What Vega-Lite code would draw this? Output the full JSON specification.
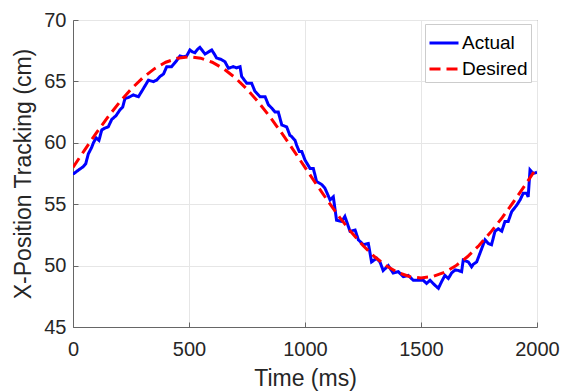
{
  "$schema": "https://vega.github.io/schema/vega-lite/v6.json",
  "width": 464,
  "height": 307,
  "autosize": {"type": "none"},
  "padding": {"left": 73, "top": 20, "right": 34, "bottom": 65},
  "background": "white",
  "config": {
    "font": "Liberation Sans",
    "view": {"stroke": "#666666", "strokeWidth": 1},
    "axis": {
      "domainColor": "#666666",
      "gridColor": "#e6e6e6",
      "tickColor": "#666666",
      "labelColor": "#262626",
      "titleColor": "#262626",
      "labelFontSize": 20,
      "titleFontSize": 23,
      "titleFontWeight": "normal",
      "labelFlush": false
    },
    "legend": {
      "labelFontSize": 19,
      "labelColor": "#000000",
      "symbolType": "stroke",
      "symbolStrokeWidth": 3,
      "symbolSize": 841
    }
  },
  "data": {
    "values": [
      {"t": 0, "v": 57.5, "series": "Actual"},
      {"t": 4, "v": 57.5, "series": "Actual"},
      {"t": 25, "v": 57.8, "series": "Actual"},
      {"t": 44, "v": 58.05, "series": "Actual"},
      {"t": 55, "v": 58.3, "series": "Actual"},
      {"t": 66, "v": 59.1, "series": "Actual"},
      {"t": 80, "v": 59.6, "series": "Actual"},
      {"t": 88, "v": 60.0, "series": "Actual"},
      {"t": 100, "v": 60.4, "series": "Actual"},
      {"t": 112, "v": 60.2, "series": "Actual"},
      {"t": 124, "v": 61.05, "series": "Actual"},
      {"t": 138, "v": 61.2, "series": "Actual"},
      {"t": 152, "v": 61.3, "series": "Actual"},
      {"t": 167, "v": 61.9, "series": "Actual"},
      {"t": 185, "v": 62.2, "series": "Actual"},
      {"t": 203, "v": 62.7, "series": "Actual"},
      {"t": 214, "v": 62.9, "series": "Actual"},
      {"t": 224, "v": 63.6, "series": "Actual"},
      {"t": 240, "v": 63.7, "series": "Actual"},
      {"t": 260, "v": 63.9, "series": "Actual"},
      {"t": 282, "v": 63.75, "series": "Actual"},
      {"t": 303, "v": 64.4, "series": "Actual"},
      {"t": 325, "v": 65.1, "series": "Actual"},
      {"t": 346, "v": 64.98, "series": "Actual"},
      {"t": 360, "v": 65.1, "series": "Actual"},
      {"t": 375, "v": 65.4, "series": "Actual"},
      {"t": 390, "v": 65.6, "series": "Actual"},
      {"t": 404, "v": 66.2, "series": "Actual"},
      {"t": 425, "v": 66.2, "series": "Actual"},
      {"t": 447, "v": 66.7, "series": "Actual"},
      {"t": 461, "v": 67.07, "series": "Actual"},
      {"t": 475, "v": 67.0, "series": "Actual"},
      {"t": 490, "v": 67.07, "series": "Actual"},
      {"t": 504, "v": 67.56, "series": "Actual"},
      {"t": 515, "v": 67.4, "series": "Actual"},
      {"t": 526, "v": 67.34, "series": "Actual"},
      {"t": 536, "v": 67.6, "series": "Actual"},
      {"t": 547, "v": 67.77, "series": "Actual"},
      {"t": 558, "v": 67.5, "series": "Actual"},
      {"t": 569, "v": 67.23, "series": "Actual"},
      {"t": 584, "v": 67.4, "series": "Actual"},
      {"t": 598, "v": 67.56, "series": "Actual"},
      {"t": 610, "v": 67.2, "series": "Actual"},
      {"t": 619, "v": 66.9, "series": "Actual"},
      {"t": 638, "v": 66.8, "series": "Actual"},
      {"t": 655, "v": 66.6, "series": "Actual"},
      {"t": 670, "v": 66.07, "series": "Actual"},
      {"t": 691, "v": 66.2, "series": "Actual"},
      {"t": 705, "v": 66.1, "series": "Actual"},
      {"t": 720, "v": 66.2, "series": "Actual"},
      {"t": 727, "v": 65.4, "series": "Actual"},
      {"t": 749, "v": 64.85, "series": "Actual"},
      {"t": 770, "v": 64.85, "series": "Actual"},
      {"t": 784, "v": 64.2, "series": "Actual"},
      {"t": 806, "v": 63.76, "series": "Actual"},
      {"t": 828, "v": 63.76, "series": "Actual"},
      {"t": 842, "v": 63.1, "series": "Actual"},
      {"t": 858, "v": 62.8, "series": "Actual"},
      {"t": 871, "v": 62.5, "series": "Actual"},
      {"t": 885, "v": 62.5, "series": "Actual"},
      {"t": 900, "v": 61.45, "series": "Actual"},
      {"t": 921, "v": 61.3, "series": "Actual"},
      {"t": 935, "v": 60.6, "series": "Actual"},
      {"t": 943, "v": 60.5, "series": "Actual"},
      {"t": 957, "v": 60.2, "series": "Actual"},
      {"t": 964, "v": 59.8, "series": "Actual"},
      {"t": 975, "v": 59.3, "series": "Actual"},
      {"t": 986, "v": 59.3, "series": "Actual"},
      {"t": 1000, "v": 58.6, "series": "Actual"},
      {"t": 1022, "v": 57.9, "series": "Actual"},
      {"t": 1036, "v": 57.9, "series": "Actual"},
      {"t": 1050, "v": 56.85, "series": "Actual"},
      {"t": 1072, "v": 56.6, "series": "Actual"},
      {"t": 1086, "v": 56.3, "series": "Actual"},
      {"t": 1108, "v": 55.35, "series": "Actual"},
      {"t": 1122, "v": 55.6, "series": "Actual"},
      {"t": 1136, "v": 53.7, "series": "Actual"},
      {"t": 1158, "v": 53.6, "series": "Actual"},
      {"t": 1172, "v": 54.0, "series": "Actual"},
      {"t": 1194, "v": 52.8, "series": "Actual"},
      {"t": 1216, "v": 52.9, "series": "Actual"},
      {"t": 1230, "v": 52.1, "series": "Actual"},
      {"t": 1252, "v": 51.7, "series": "Actual"},
      {"t": 1273, "v": 51.8, "series": "Actual"},
      {"t": 1287, "v": 50.3, "series": "Actual"},
      {"t": 1294, "v": 50.4, "series": "Actual"},
      {"t": 1309, "v": 50.6, "series": "Actual"},
      {"t": 1323, "v": 50.3, "series": "Actual"},
      {"t": 1337, "v": 49.6, "series": "Actual"},
      {"t": 1359, "v": 50.0, "series": "Actual"},
      {"t": 1380, "v": 49.4, "series": "Actual"},
      {"t": 1402, "v": 49.5, "series": "Actual"},
      {"t": 1424, "v": 49.1, "series": "Actual"},
      {"t": 1445, "v": 49.2, "series": "Actual"},
      {"t": 1467, "v": 48.8, "series": "Actual"},
      {"t": 1488, "v": 48.8, "series": "Actual"},
      {"t": 1510, "v": 48.8, "series": "Actual"},
      {"t": 1524, "v": 48.55, "series": "Actual"},
      {"t": 1539, "v": 48.8, "series": "Actual"},
      {"t": 1560, "v": 48.4, "series": "Actual"},
      {"t": 1575, "v": 48.15, "series": "Actual"},
      {"t": 1589, "v": 48.7, "series": "Actual"},
      {"t": 1603, "v": 49.2, "series": "Actual"},
      {"t": 1618, "v": 48.95, "series": "Actual"},
      {"t": 1632, "v": 49.4, "series": "Actual"},
      {"t": 1647, "v": 49.65, "series": "Actual"},
      {"t": 1661, "v": 49.6, "series": "Actual"},
      {"t": 1675, "v": 49.5, "series": "Actual"},
      {"t": 1682, "v": 50.45, "series": "Actual"},
      {"t": 1704, "v": 50.3, "series": "Actual"},
      {"t": 1718, "v": 49.9, "series": "Actual"},
      {"t": 1725, "v": 50.1, "series": "Actual"},
      {"t": 1740, "v": 50.3, "series": "Actual"},
      {"t": 1754, "v": 51.0, "series": "Actual"},
      {"t": 1776, "v": 52.1, "series": "Actual"},
      {"t": 1790, "v": 51.8, "series": "Actual"},
      {"t": 1804, "v": 51.7, "series": "Actual"},
      {"t": 1819, "v": 52.8, "series": "Actual"},
      {"t": 1833, "v": 53.0, "series": "Actual"},
      {"t": 1848, "v": 52.8, "series": "Actual"},
      {"t": 1862, "v": 53.6, "series": "Actual"},
      {"t": 1876, "v": 53.6, "series": "Actual"},
      {"t": 1891, "v": 54.4, "series": "Actual"},
      {"t": 1912, "v": 54.9, "series": "Actual"},
      {"t": 1927, "v": 55.35, "series": "Actual"},
      {"t": 1941, "v": 55.9, "series": "Actual"},
      {"t": 1955, "v": 55.9, "series": "Actual"},
      {"t": 1962, "v": 55.6, "series": "Actual"},
      {"t": 1970, "v": 57.8, "series": "Actual"},
      {"t": 1984, "v": 57.5, "series": "Actual"},
      {"t": 2000, "v": 57.6, "series": "Actual"},
      {"t": 0, "v": 58.0, "series": "Desired"},
      {"t": 50, "v": 59.41, "series": "Desired"},
      {"t": 100, "v": 60.78, "series": "Desired"},
      {"t": 150, "v": 62.09, "series": "Desired"},
      {"t": 200, "v": 63.29, "series": "Desired"},
      {"t": 250, "v": 64.36, "series": "Desired"},
      {"t": 300, "v": 65.28, "series": "Desired"},
      {"t": 350, "v": 66.02, "series": "Desired"},
      {"t": 400, "v": 66.56, "series": "Desired"},
      {"t": 450, "v": 66.89, "series": "Desired"},
      {"t": 500, "v": 67.0, "series": "Desired"},
      {"t": 550, "v": 66.89, "series": "Desired"},
      {"t": 600, "v": 66.56, "series": "Desired"},
      {"t": 650, "v": 66.02, "series": "Desired"},
      {"t": 700, "v": 65.28, "series": "Desired"},
      {"t": 750, "v": 64.36, "series": "Desired"},
      {"t": 800, "v": 63.29, "series": "Desired"},
      {"t": 850, "v": 62.09, "series": "Desired"},
      {"t": 900, "v": 60.78, "series": "Desired"},
      {"t": 950, "v": 59.41, "series": "Desired"},
      {"t": 1000, "v": 58.0, "series": "Desired"},
      {"t": 1050, "v": 56.59, "series": "Desired"},
      {"t": 1100, "v": 55.22, "series": "Desired"},
      {"t": 1150, "v": 53.91, "series": "Desired"},
      {"t": 1200, "v": 52.71, "series": "Desired"},
      {"t": 1250, "v": 51.64, "series": "Desired"},
      {"t": 1300, "v": 50.72, "series": "Desired"},
      {"t": 1350, "v": 49.98, "series": "Desired"},
      {"t": 1400, "v": 49.44, "series": "Desired"},
      {"t": 1450, "v": 49.11, "series": "Desired"},
      {"t": 1500, "v": 49.0, "series": "Desired"},
      {"t": 1550, "v": 49.11, "series": "Desired"},
      {"t": 1600, "v": 49.44, "series": "Desired"},
      {"t": 1650, "v": 49.98, "series": "Desired"},
      {"t": 1700, "v": 50.72, "series": "Desired"},
      {"t": 1750, "v": 51.64, "series": "Desired"},
      {"t": 1800, "v": 52.71, "series": "Desired"},
      {"t": 1850, "v": 53.91, "series": "Desired"},
      {"t": 1900, "v": 55.22, "series": "Desired"},
      {"t": 1950, "v": 56.59, "series": "Desired"},
      {"t": 2000, "v": 58.0, "series": "Desired"}
    ]
  },
  "mark": {"type": "line", "strokeWidth": 3, "clip": true},
  "encoding": {
    "x": {
      "field": "t",
      "type": "quantitative",
      "scale": {"domain": [0, 2000], "nice": false},
      "axis": {
        "title": "Time (ms)",
        "format": "d",
        "values": [0, 500, 1000, 1500, 2000],
        "grid": true,
        "tickSize": -5,
        "labelPadding": 17,
        "titlePadding": 8
      }
    },
    "y": {
      "field": "v",
      "type": "quantitative",
      "scale": {"domain": [45, 70], "nice": false, "zero": false},
      "axis": {
        "title": "X-Position Tracking (cm)",
        "values": [45, 50, 55, 60, 65, 70],
        "grid": true,
        "tickSize": -5,
        "labelPadding": 12,
        "titlePadding": 8
      }
    },
    "color": {
      "field": "series",
      "type": "nominal",
      "scale": {"domain": ["Actual", "Desired"], "range": ["#0000ff", "#ff0000"]},
      "legend": {
        "title": null,
        "orient": "none",
        "legendX": 352,
        "legendY": 4,
        "fillColor": "white",
        "strokeColor": "#cccccc",
        "padding": 3,
        "labelOffset": 2,
        "rowPadding": -4
      }
    },
    "strokeDash": {
      "field": "series",
      "type": "nominal",
      "scale": {"domain": ["Actual", "Desired"], "range": [[1, 0], [11, 6]]},
      "legend": {
        "title": null,
        "orient": "none",
        "legendX": 352,
        "legendY": 4,
        "fillColor": "white",
        "strokeColor": "#cccccc",
        "padding": 3,
        "labelOffset": 2,
        "rowPadding": -4
      }
    }
  }
}
